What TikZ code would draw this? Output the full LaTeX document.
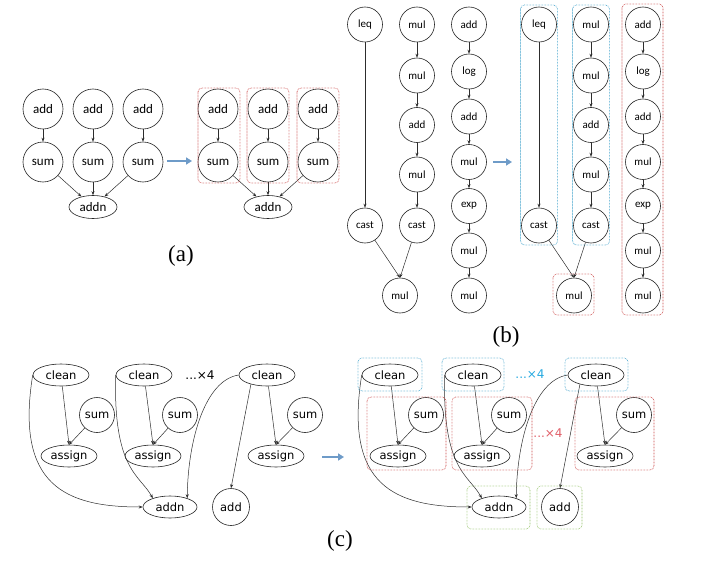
\documentclass[tikz,border=0pt]{standalone}
\usepackage{fontspec}
\setmainfont{Liberation Serif}
\newfontfamily\calibfont{Carlito}
\newfontfamily\dejafont{DejaVu Sans}
\usetikzlibrary{shapes.geometric,arrows.meta}

\definecolor{edgegray}{RGB}{45,45,45}
\definecolor{flowblue}{RGB}{110,155,200}
\definecolor{grpblue}{RGB}{70,165,205}
\definecolor{grpred}{RGB}{205,75,75}
\definecolor{grpgreen}{RGB}{150,195,105}
\definecolor{txtblue}{RGB}{40,170,225}
\definecolor{txtred}{RGB}{225,95,105}

% (a): three add->sum chains feeding one addn
\newcommand\graphA{%
  \node[opa] (add1) at (43,109) {add};
  \node[opa] (add2) at (93,109) {add};
  \node[opa] (add3) at (143,109) {add};
  \node[opa] (sum1) at (43,162) {sum};
  \node[opa] (sum2) at (93,162) {sum};
  \node[opa] (sum3) at (143,162) {sum};
  \node[opaell] (addn) at (93,207) {addn};
  \draw[dep] (add1) -- (sum1);
  \draw[dep] (add2) -- (sum2);
  \draw[dep] (add3) -- (sum3);
  \draw[dep] (sum1) -- (addn);
  \draw[dep] (sum2) -- (addn);
  \draw[dep] (sum3) -- (addn);
}

% (b): three elementwise chains
\newcommand\graphB{%
  \node[opb] (leq) at (365,24.5) {leq};
  \node[opb] (castA) at (365,225.5) {cast};
  \node[opb] (mA) at (417,24.5) {mul};
  \node[opb] (mB) at (417,75.5) {mul};
  \node[opb] (aA) at (417,125) {add};
  \node[opb] (mC) at (417,174.5) {mul};
  \node[opb] (castB) at (417,225.5) {cast};
  \node[opb] (out) at (400,295.5) {mul};
  \node[opb] (c1) at (469,24.5) {add};
  \node[opb] (c2) at (469,71.5) {log};
  \node[opb] (c3) at (469,116.5) {add};
  \node[opb] (c4) at (469,162) {mul};
  \node[opb] (c5) at (469,206) {exp};
  \node[opb] (c6) at (469,250.5) {mul};
  \node[opb] (c7) at (469,295.5) {mul};
  \draw[dep] (leq) -- (castA);
  \draw[dep] (mA) -- (mB);
  \draw[dep] (mB) -- (aA);
  \draw[dep] (aA) -- (mC);
  \draw[dep] (mC) -- (castB);
  \draw[dep] (castA) -- (out.north);
  \draw[dep] (castB) -- (out.north);
  \draw[dep] (c1) -- (c2);
  \draw[dep] (c2) -- (c3);
  \draw[dep] (c3) -- (c4);
  \draw[dep] (c4) -- (c5);
  \draw[dep] (c5) -- (c6);
  \draw[dep] (c6) -- (c7);
}

% (c): clean / sum / assign with shared addn
\newcommand\graphC{%
  \node[opc] (cl1) at (61,375) {clean};
  \node[opc] (cl2) at (144,375) {clean};
  \node[opc] (cl3) at (267,375) {clean};
  \node[opcc] (s1) at (97,415) {sum};
  \node[opcc] (s2) at (180,415) {sum};
  \node[opcc] (s3) at (305,415) {sum};
  \node[opc] (as1) at (69,456) {assign};
  \node[opc] (as2) at (153,456) {assign};
  \node[opc] (as3) at (276,456) {assign};
  \node[opc,minimum width=54pt] (addn) at (170,507) {addn};
  \node[opcc,minimum size=37pt] (add) at (231,507) {add};
  \draw[dep] (cl1) -- (as1.north);
  \draw[dep] (s1) -- (as1.north);
  \draw[dep] (cl2) -- (as2.north);
  \draw[dep] (s2) -- (as2.north);
  \draw[dep] (cl3) -- (as3.north);
  \draw[dep] (s3) -- (as3.north);
  \draw[dep] (cl1.west) .. controls (15,485) and (65,507) .. (addn.west);
  \draw[dep] (cl2.west) .. controls (113,470) and (140,475) .. (addn.153);
  \draw[dep] (cl3.west) .. controls (205,380) and (188,440) .. (addn.27);
  \draw[dep] (cl3.210) -- (add.north);
}

\begin{document}
\begin{tikzpicture}[x=1pt,y=-1pt,
  opa/.style={circle,draw=black!85,line width=0.6pt,minimum size=40pt,inner sep=0pt,
    font=\calibfont\fontsize{13}{13}\selectfont},
  opaell/.style={ellipse,draw=black!85,line width=0.6pt,minimum width=48pt,minimum height=23pt,
    inner sep=0pt,font=\calibfont\fontsize{13}{13}\selectfont},
  opb/.style={circle,draw=black!85,line width=0.6pt,minimum size=35pt,inner sep=0pt,
    font=\calibfont\fontsize{11}{11}\selectfont},
  opc/.style={ellipse,draw=black!85,line width=0.6pt,minimum width=56pt,minimum height=22pt,
    inner sep=0pt,font=\dejafont\fontsize{11.5}{11.5}\selectfont},
  opcc/.style={circle,draw=black!85,line width=0.6pt,minimum size=35pt,inner sep=0pt,
    font=\dejafont\fontsize{11.5}{11.5}\selectfont},
  dep/.style={draw=edgegray,line width=0.5pt,-{Stealth[length=4pt,width=3pt]}},
  flow/.style={draw=flowblue,line width=2.6pt,-{Triangle[length=6pt,width=7pt]}},
  grp/.style={dash pattern=on 0.6pt off 0.9pt,line width=0.7pt,rounded corners=4pt},
  sublabel/.style={font=\fontsize{23}{23}\selectfont},
  repnote/.style={font=\dejafont\fontsize{12}{12}\selectfont},
]
\useasboundingbox[fill=white] (0,0) rectangle (704,567);

% ---------- (a) ----------
\begin{scope}[name prefix=aL-]
  \graphA
\end{scope}
\begin{scope}[xshift=175pt,name prefix=aR-]
  \graphA
\end{scope}
\draw[grp,grpred] (198,88) rectangle (240,183);
\draw[grp,grpred] (247,88) rectangle (289,183);
\draw[grp,grpred] (297,88) rectangle (339,183);
\coordinate (fa1) at (167,161);
\coordinate (fa2) at (192,161);
\draw[flow] (fa1) -- (fa2);
\node[sublabel] (labA) at (181,256) {(a)};

% ---------- (b) ----------
\begin{scope}[name prefix=bL-]
  \graphB
\end{scope}
\begin{scope}[xshift=174pt,name prefix=bR-]
  \graphB
\end{scope}
\draw[grp,grpblue] (520.5,5) rectangle (557.5,245);
\draw[grp,grpblue] (572.5,5) rectangle (609.5,245);
\draw[grp,grpred] (622,4) rectangle (663,315);
\draw[grp,grpred] (553,274) rectangle (594,315);
\coordinate (fb1) at (493,162);
\coordinate (fb2) at (512,162);
\draw[flow] (fb1) -- (fb2);
\node[sublabel] (labB) at (506,337) {(b)};

% ---------- (c) ----------
\begin{scope}[name prefix=cL-]
  \graphC
\end{scope}
\begin{scope}[xshift=329pt,name prefix=cR-]
  \graphC
\end{scope}
\node[repnote] (repL) at (200,375) {...×4};
\node[repnote,text=txtblue] (repB) at (530,374) {...×4};
\node[repnote,text=txtred] (repR) at (548,433) {...×4};
\draw[grp,grpblue] (358,358) rectangle (422,391);
\draw[grp,grpblue] (442,358) rectangle (504,391);
\draw[grp,grpblue] (565,358) rectangle (628,391);
\draw[grp,grpred] (367,397) rectangle (446,470);
\draw[grp,grpred] (452,397) rectangle (532,470);
\draw[grp,grpred] (575,397) rectangle (654,470);
\draw[grp,grpgreen] (467,486) rectangle (530,529);
\draw[grp,grpgreen] (537,486) rectangle (582,529);
\coordinate (fc1) at (322,457);
\coordinate (fc2) at (344,457);
\draw[flow] (fc1) -- (fc2);
\node[sublabel] (labC) at (340,541) {(c)};
\end{tikzpicture}
\end{document}
